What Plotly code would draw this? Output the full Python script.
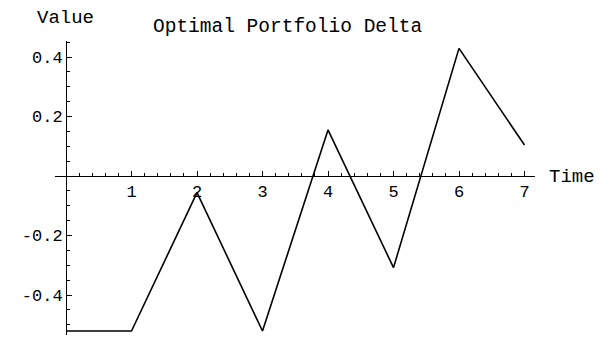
import numpy as np
import plotly.graph_objects as go

# Optimal portfolio delta at each rebalancing time
time = [0, 1, 2, 3, 4, 5, 6, 7]
delta = [-0.521, -0.521, -0.056, -0.521, 0.155, -0.308, 0.429, 0.104]

x_ticks = [1, 2, 3, 4, 5, 6, 7]
x_tick_text = ["1", "2", "3", "4", "5", "6", "7"]
y_ticks = [-0.4, -0.2, 0.2, 0.4]
y_tick_text = ["-0.4", "-0.2", "0.2", "0.4"]

W, H = 600, 337
FONT = "Liberation Mono, Courier New, monospace"

x_minor = [round(v, 2) for v in np.arange(0.2, 7.01, 0.2) if abs(v - round(v)) > 1e-6]
y_minor = [round(v, 2) for v in np.arange(-0.5, 0.451, 0.05)
           if abs(v * 5 - round(v * 5)) > 1e-6]

fig = go.Figure()
fig.add_trace(go.Scatter(
    x=time, y=delta, mode="lines",
    line=dict(color="black", width=1.6),
    hoverinfo="skip", showlegend=False,
))

# axis geometry in pixels
x0_px, y0_px = 66, 176
x_left_px, x_right_px = 55, 535
y_top_px, y_bot_px = 41, 335
px_per_x = 65.5
px_per_y = 297.5

fig.update_layout(
    width=W, height=H,
    margin=dict(l=0, r=0, t=0, b=0),
    paper_bgcolor="white", plot_bgcolor="white",
    font=dict(family=FONT, size=17, color="black"),
    xaxis=dict(
        domain=[x_left_px / W, x_right_px / W],
        range=[(x_left_px - x0_px) / px_per_x, (x_right_px - x0_px) / px_per_x],
        anchor="free", position=(H - y0_px) / H,
        showgrid=False, zeroline=False,
        showline=True, linecolor="black", linewidth=1,
        tickmode="array", tickvals=x_ticks, ticktext=x_tick_text,
        ticks="inside", ticklen=5, tickwidth=1, tickcolor="black",
        minor=dict(tickmode="array", tickvals=x_minor, ticks="inside",
                   ticklen=3, tickwidth=1, tickcolor="black"),
        tickfont=dict(family=FONT, size=17),
        fixedrange=True,
    ),
    yaxis=dict(
        domain=[(H - y_bot_px) / H, (H - y_top_px) / H],
        range=[(y0_px - y_bot_px) / px_per_y, (y0_px - y_top_px) / px_per_y],
        anchor="free", position=x0_px / W,
        showgrid=False, zeroline=False,
        showline=True, linecolor="black", linewidth=1,
        tickmode="array", tickvals=y_ticks, ticktext=y_tick_text,
        ticks="inside", ticklen=5, tickwidth=1, tickcolor="black",
        minor=dict(tickmode="array", tickvals=y_minor, ticks="inside",
                   ticklen=3, tickwidth=1, tickcolor="black"),
        tickfont=dict(family=FONT, size=17),
        fixedrange=True,
    ),
    annotations=[
        dict(text="Optimal Portfolio Delta", xref="paper", yref="paper",
             x=287.5 / W, y=1 - 27 / H, xanchor="center", yanchor="middle",
             showarrow=False, font=dict(family=FONT, size=19.5)),
        dict(text="Value", xref="paper", yref="paper",
             x=65.5 / W, y=1 - 18 / H, xanchor="center", yanchor="middle",
             showarrow=False, font=dict(family=FONT, size=19)),
        dict(text="Time", xref="paper", yref="paper",
             x=547 / W, y=1 - 177 / H, xanchor="left", yanchor="middle",
             showarrow=False, font=dict(family=FONT, size=19)),
    ],
)

fig.write_html("out.html")
